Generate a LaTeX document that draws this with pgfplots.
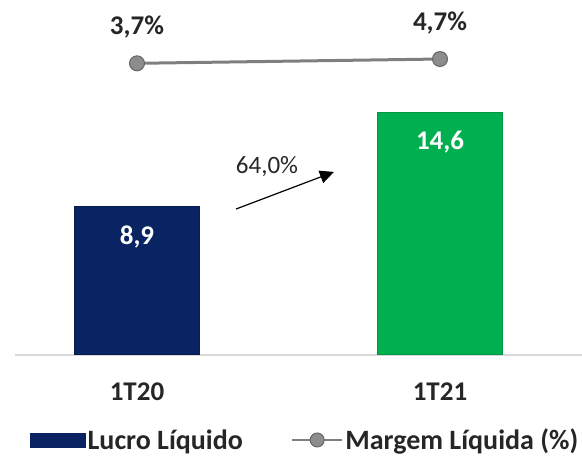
\documentclass[border=0pt]{standalone}
\usepackage{pgfplots}
\pgfplotsset{compat=1.18}
\usepackage{fontspec}
\setmainfont{Carlito}
\usetikzlibrary{arrows.meta}
\definecolor{navy}{HTML}{0A2463}
\definecolor{verde}{HTML}{00B050}
\definecolor{linec}{HTML}{7F7F7F}
\definecolor{markc}{HTML}{8C8C8C}
\definecolor{txt}{HTML}{262626}

\begin{document}
\begin{tikzpicture}
\path[use as bounding box] (0pt,-110pt) rectangle (582pt,355pt);
% bars: Lucro Liquido
\begin{axis}[
  at={(15pt,0pt)}, anchor=south west,
  scale only axis, width=567pt, height=355pt,
  xmin=-0.4026, xmax=1.4686, ymin=0, ymax=21.33,
  axis x line=bottom, axis y line=none,
  x axis line style={-, draw=black!15, line width=1.5pt},
  xtick={0,1}, xticklabels={1T20,1T21},
  major tick length=0pt,
  xticklabel style={font=\bfseries\fontsize{27}{30}\selectfont, text=txt, anchor=center, yshift=-37pt},
  ybar, bar width=125pt, bar shift=0pt,
  nodes near coords, point meta=explicit symbolic,
  every node near coord/.append style={anchor=center, yshift=-30pt, text=white, font=\bfseries\fontsize{27}{30}\selectfont},
  clip=false,
]
\addplot[fill=navy, draw=navy!80!black, line width=1pt] coordinates {(0,8.9) [8,9]};
\addplot[fill=verde, draw=verde!85!black, line width=1pt] coordinates {(1,14.6) [14,6]};
\draw[-{Triangle[length=14pt,width=13pt]}, line width=1.2pt] (axis cs:0.3267,8.77) -- (axis cs:0.65,11.0);
\node[font=\fontsize{25}{28}\selectfont, text=txt] at (axis cs:0.429,11.3) {64,0\%};
\end{axis}
% line: Margem Liquida
\begin{axis}[
  at={(15pt,0pt)}, anchor=south west,
  scale only axis, width=567pt, height=355pt,
  xmin=-0.4026, xmax=1.4686, ymin=-64.1, ymax=18.42,
  hide axis, clip=false,
  nodes near coords, point meta=explicit symbolic,
  every node near coord/.append style={anchor=center, yshift=36pt, text=txt, font=\bfseries\fontsize{27}{30}\selectfont},
  legend style={at={(axis description cs:0.0265,-0.2394)}, anchor=west, draw=none, fill=none,
    inner sep=0pt, legend columns=2, font=\bfseries\fontsize{28}{31}\selectfont, text=txt,
    /tikz/every even column/.append style={column sep=46pt}},
]
\addlegendimage{legend image code/.code={\fill[navy] (0pt,-7pt) rectangle (55pt,7pt);}}
\addlegendentry{Lucro Líquido}
\addplot[linec, line width=3pt, mark=*, mark size=7.5pt,
  mark options={fill=markc, draw=linec!80!black, line width=1pt},
  legend image code/.code={\draw[linec, line width=2.5pt] (0pt,0pt) -- (50pt,0pt);
    \filldraw[fill=markc, draw=linec!80!black, line width=1pt] (25pt,0pt) circle (7pt);}]
  coordinates {(0,3.7) [3,7\%] (1,4.7) [4,7\%]};
\addlegendentry{Margem Líquida (\%)}
\end{axis}
\end{tikzpicture}
\end{document}
